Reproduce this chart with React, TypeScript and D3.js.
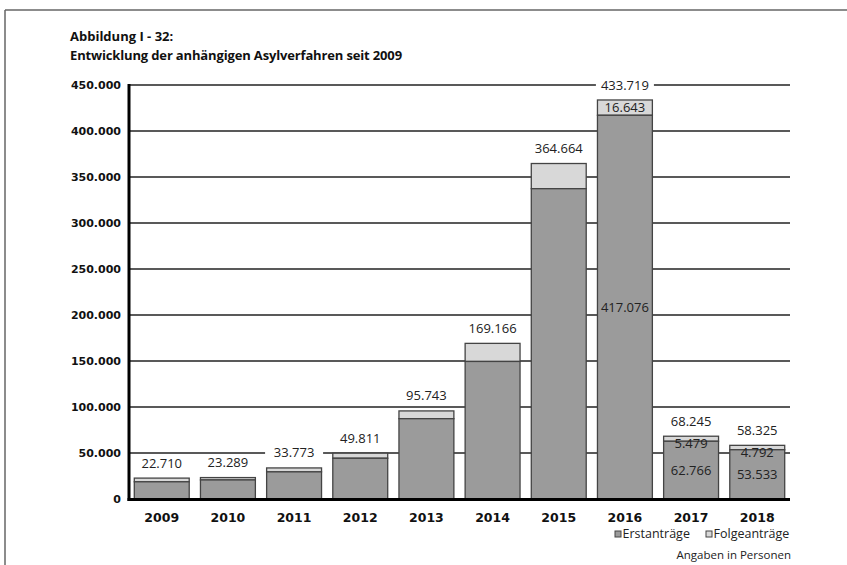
import React from 'react';
import * as d3 from 'd3';

const years = ['2009', '2010', '2011', '2012', '2013', '2014', '2015', '2016', '2017', '2018'];
const erstantraege = [18700, 20700, 29500, 44300, 87300, 149500, 337300, 417076, 62766, 53533];
const folgeantraege = [4010, 2589, 4273, 5511, 8443, 19666, 27364, 16643, 5479, 4792];
const totals = [22710, 23289, 33773, 49811, 95743, 169166, 364664, 433719, 68245, 58325];
const yTicks = [0, 50000, 100000, 150000, 200000, 250000, 300000, 350000, 400000, 450000];
// only these bars show their parts as labels
const labelledParts = ['2016', '2017', '2018'];

const W = 847;
const H = 565;
const fmt = (v: number) => d3.format(',')(v).replace(/,/g, '.');

function App() {
  const x = d3.scaleBand<string>().domain(years).range([129, 790]).paddingInner(0.17).paddingOuter(0.08);
  const y = d3.scaleLinear().domain([0, 450000]).range([499, 85]);
  const bw = x.bandwidth();

  const sans = "'Open Sans', 'Noto Sans', sans-serif";
  const bold = "'DejaVu Sans', sans-serif";

  return (
    <svg width={W} height={H} style={{ position: 'absolute', left: 0, top: 0, background: '#fff' }}>
      {/* frame */}
      <line x1={5} y1={10} x2={W} y2={10} stroke="#666" strokeWidth={1.5} />
      <line x1={5} y1={10} x2={5} y2={H} stroke="#666" strokeWidth={1.5} />

      <text x={70} y={41} fontFamily={sans} fontWeight="bold" fontSize={13} fill="#111">
        Abbildung I - 32:
      </text>
      <text x={70} y={60} fontFamily={sans} fontWeight="bold" fontSize={13} fill="#111" letterSpacing={-0.15}>
        Entwicklung der anhängigen Asylverfahren seit 2009
      </text>

      {/* grid + y ticks */}
      {yTicks.map((t) => (
        <g key={t}>
          {t > 0 && <line x1={129} x2={790} y1={y(t)} y2={y(t)} stroke="#222" strokeWidth={1.5} />}
          <text x={121} y={y(t)} dy="0.35em" textAnchor="end" fontFamily={bold} fontWeight="bold" fontSize={11} fill="#111">
            {t === 0 ? '0' : fmt(t)}
          </text>
        </g>
      ))}

      {/* bars */}
      {years.map((yr, i) => {
        const x0 = x(yr) as number;
        const top = y(totals[i]);
        const mid = y(erstantraege[i]);
        return (
          <g key={yr}>
            <rect x={x0} y={top} width={bw} height={mid - top} fill="#d8d8d8" stroke="#444" strokeWidth={1.3} />
            <rect x={x0} y={mid} width={bw} height={y(0) - mid} fill="#9b9b9b" stroke="#444" strokeWidth={1.3} />
          </g>
        );
      })}

      {/* axes */}
      <line x1={129} x2={129} y1={84} y2={501} stroke="#000" strokeWidth={3} />
      <line x1={127.5} x2={790} y1={y(0) + 0.5} y2={y(0) + 0.5} stroke="#000" strokeWidth={3} />

      {years.map((yr) => (
        <text key={yr} x={(x(yr) as number) + bw / 2} y={522} textAnchor="middle" fontFamily={bold} fontWeight="bold" fontSize={12.5} fill="#111">
          {yr}
        </text>
      ))}

      {/* total labels */}
      {years.map((yr, i) => {
        const cx = (x(yr) as number) + bw / 2;
        const cy = y(totals[i]) - 15;
        return (
          <g key={'t' + yr}>
            <rect x={cx - 29} y={cy - 7} width={58} height={14} fill="#fff" />
            <text x={cx} y={cy} dy="0.35em" textAnchor="middle" fontFamily={sans} fontSize={13} fill="#222">
              {fmt(totals[i])}
            </text>
          </g>
        );
      })}

      {/* part labels */}
      {years.map((yr, i) => {
        if (!labelledParts.includes(yr)) return null;
        const cx = (x(yr) as number) + bw / 2;
        const top = y(totals[i]);
        const mid = y(erstantraege[i]);
        const fy = Math.max((top + mid) / 2, top + 7);
        return (
          <g key={'p' + yr}>
            <text x={cx} y={fy} dy="0.35em" textAnchor="middle" fontFamily={sans} fontSize={13} fill="#222">
              {fmt(folgeantraege[i])}
            </text>
            <text x={cx} y={(mid + y(0)) / 2} dy="0.35em" textAnchor="middle" fontFamily={sans} fontSize={13} fill="#222">
              {fmt(erstantraege[i])}
            </text>
          </g>
        );
      })}

      {/* legend */}
      <rect x={615} y={531} width={6} height={6} fill="#9b9b9b" stroke="#444" strokeWidth={1} />
      <text x={622.5} y={534} dy="0.35em" fontFamily={sans} fontSize={12.5} fill="#222">Erstanträge</text>
      <rect x={706} y={531} width={6} height={6} fill="#d8d8d8" stroke="#444" strokeWidth={1} />
      <text x={713.5} y={534} dy="0.35em" fontFamily={sans} fontSize={12.5} fill="#222">Folgeanträge</text>
      <text x={791} y={555} dy="0.35em" textAnchor="end" fontFamily={sans} fontSize={11.5} fill="#222">Angaben in Personen</text>
    </svg>
  );
}

export default App;
